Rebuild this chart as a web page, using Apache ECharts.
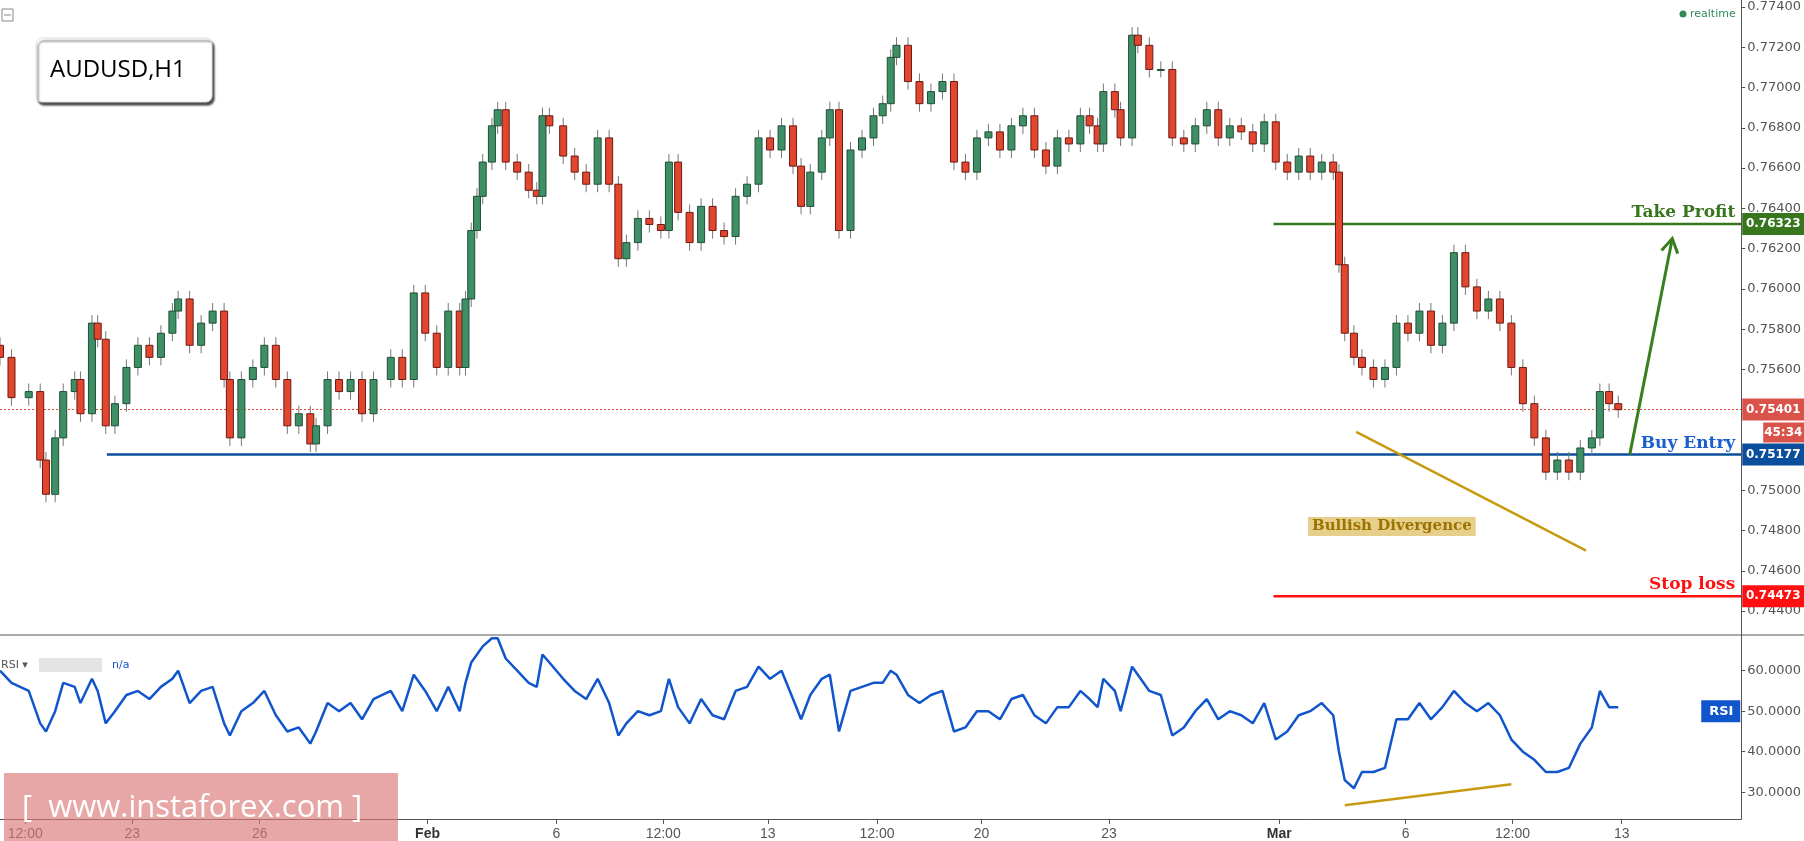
<!DOCTYPE html>
<html>
<head>
<meta charset="utf-8">
<script src="https://cdn.jsdelivr.net/npm/echarts@6/dist/echarts.min.js"></script>
<style>
  html, body { margin: 0; padding: 0; background: #fff; }
  #main { width: 1804px; height: 841px; }
</style>
</head>
<body>
<div id="main"></div>
<script>
// time slots (one slot ~ 40 min of trading time)
var slots = [0,10,25,35,40,48,55,65,70,80,85,92,100,110,120,130,140,150,155,165,175,185,195,200,210,220,230,240,250,260,
  270,275,285,295,305,315,325,340,350,360,370,380,390,400,405,410,415,420,428,433,440,450,460,467,472,478,490,500,510,520,
  530,538,545,555,565,575,582,590,600,610,620,630,640,650,660,670,680,690,697,705,715,722,730,740,750,760,768,775,780,790,
  800,810,820,830,840,850,860,870,880,890,900,910,920,930,940,948,955,960,970,975,985,990,1000,1010,1020,1030,1040,1050,1060,1070,
  1080,1090,1100,1110,1120,1130,1140,1150,1160,1165,1170,1178,1185,1195,1205,1215,1225,1235,1245,1255,1265,1275,1285,1295,1305,1315,1325,1335,1345,1355,
  1365,1375,1385,1392,1400,1408];
var closes = [.7566,.7546,.7549,.7515,.7498,.7526,.7549,.7555,.7538,.7583,.7575,.7532,.7543,.7561,.7572,.7566,.7578,.7589,.7595,.7572,.7583,.7589,.7555,.7526,.7555,.7561,.7572,.7555,.7532,.7538,
  .7523,.7532,.7555,.7549,.7555,.7538,.7555,.7566,.7555,.7598,.7578,.7561,.7589,.7561,.7595,.7629,.7646,.7663,.7681,.7689,.7663,.7658,.7649,.7646,.7686,.7681,.7666,.7658,.7652,.7675,
  .7652,.7615,.7623,.7635,.7632,.7629,.7663,.7638,.7623,.7641,.7629,.7626,.7646,.7652,.7675,.7669,.7681,.7661,.7641,.7658,.7675,.7689,.7629,.7669,.7675,.7686,.7692,.7715,.7721,.7703,
  .7692,.7698,.7703,.7663,.7658,.7675,.7678,.7669,.7681,.7686,.7669,.7661,.7675,.7672,.7686,.7681,.7672,.7698,.7689,.7675,.7726,.7721,.7709,.7709,.7675,.7672,.7681,.7689,.7675,.7681,
  .7678,.7672,.7683,.7663,.7658,.7666,.7658,.7663,.7658,.7612,.7578,.7566,.7561,.7555,.7561,.7583,.7578,.7589,.7572,.7583,.7618,.7601,.7589,.7595,.7583,.7561,.7543,.7526,.7509,.7515,
  .7509,.7521,.7526,.7549,.7543,.7540];
var rsi = [60,57,55,47,45,50,57,56,52,58,55,47,50,54,55,53,56,58,60,52,55,56,47,44,50,52,55,49,45,46,
  42,45,52,50,52,48,53,55,50,59,55,50,56,50,57,62,64,66,68,68,63,60,57,56,64,62,58,55,53,58,
  52,44,47,50,49,50,58,51,47,53,49,48,55,56,61,58,60,53,48,54,58,59,45,55,56,57,57,60,59,54,
  52,54,55,45,46,50,50,48,53,54,49,47,51,51,55,53,51,58,55,50,61,59,55,54,44,46,50,53,48,50,
  49,47,52,43,45,49,50,52,49,40,33,31,35,35,36,48,48,52,48,51,55,52,50,52,49,43,40,38,35,35,
  36,42,46,55,51,51];
var tickSlots = [22,115,226,372,484,577,668,763,854,965,1113,1223,1316,1411];
var tickLabels = ['12:00','23','26','Feb','6','12:00','13','12:00','20','23','Mar','6','12:00','13'];
var priceTicks = [0.744,0.746,0.748,0.750,0.752,0.754,0.756,0.758,0.760,0.762,0.764,0.766,0.768,0.770,0.772,0.774];
var rsiTicks = [30,40,50,60];
var takeProfit = 0.76323, buyEntry = 0.75177, stopLoss = 0.74473, lastPrice = 0.75401;
var NSLOTS = 1516;

var cats = [];
for (var i = 0; i < NSLOTS; i++) cats.push(i);
var candles = [], rsiLine = [];
for (var i = 0; i < NSLOTS; i++) rsiLine.push('-');
slots.forEach(function (s, i) {
    var c = closes[i];
    var o = i > 0 ? closes[i - 1] : c + 0.0006;
    candles.push([s, o, c, Math.min(o, c) - 0.0004, Math.max(o, c) + 0.0004]);
    rsiLine[s] = rsi[i];
});
var tickMap = {};
tickSlots.forEach(function (s, i) { tickMap[s] = tickLabels[i]; });

function renderCandle(params, api) {
    var x = api.value(0), o = api.value(1), c = api.value(2), l = api.value(3), h = api.value(4);
    var pO = api.coord([x, o]), pC = api.coord([x, c]), pL = api.coord([x, l]), pH = api.coord([x, h]);
    var up = c >= o, w = 7;
    var top = Math.min(pO[1], pC[1]), bh = Math.max(Math.abs(pO[1] - pC[1]), 1);
    return { type: 'group', children: [
        { type: 'line', shape: { x1: pH[0], y1: pH[1], x2: pL[0], y2: pL[1] }, style: { stroke: '#777', lineWidth: 1 } },
        { type: 'rect', shape: { x: pO[0] - w / 2, y: top, width: w, height: bh },
          style: { fill: up ? '#3f8f66' : '#e2462f', stroke: up ? '#1f4f35' : '#6a1a12', lineWidth: 1 } }
    ] };
}

var chart = echarts.init(document.getElementById('main'));
var gray = '#555';
chart.setOption({
    animation: false,
    textStyle: { fontFamily: 'DejaVu Sans' },
    grid: [
        { left: 0, right: 61, top: 0, height: 635 },
        { left: 0, right: 61, top: 635, height: 186 }
    ],
    xAxis: [
        { type: 'category', gridIndex: 0, data: cats, boundaryGap: false,
          axisLine: { show: false }, axisTick: { show: false }, axisLabel: { show: false }, splitLine: { show: false } },
        { type: 'category', gridIndex: 1, data: cats, boundaryGap: false,
          axisLine: { lineStyle: { color: '#555' } },
          axisTick: { interval: function (i) { return tickMap[i] !== undefined; }, lineStyle: { color: '#555' } },
          axisLabel: { interval: function (i) { return tickMap[i] !== undefined; },
              formatter: function (v) { var t = tickMap[v]; return (t === 'Feb' || t === 'Mar') ? '{b|' + t + '}' : t; },
              color: gray, fontSize: 14, fontFamily: 'Liberation Sans Narrow, Liberation Sans', margin: 8,
              rich: { b: { fontWeight: 'bold', color: '#333', fontSize: 14 } } },
          splitLine: { show: false } }
    ],
    yAxis: [
        { type: 'value', gridIndex: 0, position: 'right', min: 0.74281, max: 0.77435,
          axisLine: { show: true, lineStyle: { color: '#555' } },
          axisTick: { show: true, customValues: priceTicks, length: 4, lineStyle: { color: '#555' } },
          axisLabel: { customValues: priceTicks, formatter: function (v) { return v.toFixed(5); },
              color: gray, fontSize: 13, margin: 6 },
          splitLine: { show: false } },
        { type: 'value', gridIndex: 1, position: 'right', min: 23.4, max: 68.8,
          axisLine: { show: true, lineStyle: { color: '#555' } },
          axisTick: { show: true, customValues: rsiTicks, length: 4, lineStyle: { color: '#555' } },
          axisLabel: { customValues: rsiTicks, formatter: function (v) { return v.toFixed(4); },
              color: gray, fontSize: 13, margin: 6 },
          splitLine: { show: false } }
    ],
    series: [
        { type: 'custom', xAxisIndex: 0, yAxisIndex: 0, data: candles, renderItem: renderCandle,
          encode: { x: 0, y: [1, 2, 3, 4] } },
        { type: 'line', xAxisIndex: 1, yAxisIndex: 1, data: rsiLine, connectNulls: true, showSymbol: false,
          lineStyle: { color: '#1155cc', width: 2.5 } }
    ]
});

function P(s, v) { return chart.convertToPixel({ gridIndex: 0 }, [s, v]); }
function R(s, v) { return chart.convertToPixel({ gridIndex: 1 }, [s, v]); }
var axisX = P(NSLOTS - 1, lastPrice)[0];

function hline(s0, price, color, w, dash) {
    var a = P(s0, price), b = P(NSLOTS - 1, price);
    return { type: 'line', shape: { x1: a[0], y1: a[1], x2: b[0], y2: b[1] },
        style: { stroke: color, lineWidth: w, lineDash: dash || null } };
}
function tag(price, text, bg, dy) {
    var y = P(0, price)[1] + (dy || 0);
    return { type: 'group', z: 100, children: [
        { type: 'rect', z: 100, shape: { x: axisX + 1, y: y - 11, width: 62, height: 22 }, style: { fill: bg } },
        { type: 'text', z: 101, x: axisX + 32, y: y, style: { text: text, fill: '#fff', font: 'bold 12px DejaVu Sans', align: 'center', verticalAlign: 'middle' } }
    ] };
}
function title(price, text, color) {
    var y = P(0, price)[1];
    return { type: 'text', x: axisX - 6, y: y - 3, style: { text: text, fill: color, font: 'bold 17px DejaVu Serif', align: 'right', verticalAlign: 'bottom' } };
}

var arrowA = P(1418, buyEntry), arrowB = P(1455, 0.7625);
var ang = Math.atan2(arrowB[1] - arrowA[1], arrowB[0] - arrowA[0]);
function head(p, a, len) {
    return [[p[0] + len * Math.cos(a + 2.6), p[1] + len * Math.sin(a + 2.6)], p, [p[0] + len * Math.cos(a - 2.6), p[1] + len * Math.sin(a - 2.6)]];
}
var d1 = P(1180, 0.7529), d2 = P(1380, 0.7470);
var r1 = R(1170, 26.8), r2 = R(1315, 32);
var divLbl = P(1211, 0.7482);
var lastY = P(0, lastPrice)[1];

chart.setOption({
    graphic: [
        hline(0, lastPrice, '#e2462f', 1, [2, 2]),
        hline(1108, takeProfit, '#38761d', 2.5),
        hline(93, buyEntry, '#0b4f9c', 2.5),
        hline(1108, stopLoss, '#ff1010', 2.5),
        title(takeProfit, 'Take Profit', '#38761d'),
        title(buyEntry, 'Buy Entry', '#1a5fcc'),
        title(stopLoss, 'Stop loss', '#ff1010'),
        tag(takeProfit, '0.76323', '#38761d'),
        tag(buyEntry, '0.75177', '#0b4f9c'),
        tag(stopLoss, '0.74473', '#ff1010'),
        tag(lastPrice, '0.75401', '#d9534a'),
        { type: 'group', z: 100, children: [
            { type: 'rect', z: 100, shape: { x: axisX + 22, y: lastY + 13, width: 41, height: 20 }, style: { fill: '#d9534a' } },
            { type: 'text', z: 101, x: axisX + 42, y: lastY + 23, style: { text: '45:34', fill: '#fff', font: 'bold 12px DejaVu Sans', align: 'center', verticalAlign: 'middle' } }
        ] },
        { type: 'line', shape: { x1: arrowA[0], y1: arrowA[1], x2: arrowB[0], y2: arrowB[1] }, style: { stroke: '#38801f', lineWidth: 3 } },
        { type: 'polyline', shape: { points: head(arrowB, ang, 16) }, style: { stroke: '#38801f', lineWidth: 3, fill: null } },
        { type: 'line', shape: { x1: d1[0], y1: d1[1], x2: d2[0], y2: d2[1] }, style: { stroke: '#c79a12', lineWidth: 2.5 } },
        { type: 'line', shape: { x1: r1[0], y1: r1[1], x2: r2[0], y2: r2[1] }, style: { stroke: '#c79a12', lineWidth: 2.5 } },
        { type: 'text', x: divLbl[0], y: divLbl[1], style: { text: 'Bullish Divergence', fill: '#9a7300', font: 'bold 15px DejaVu Serif',
            align: 'center', verticalAlign: 'middle', backgroundColor: '#e6cf8a', padding: [2, 4] } },
        // separator between panes
        { type: 'line', shape: { x1: 0, y1: 635, x2: 1804, y2: 635 }, style: { stroke: '#555', lineWidth: 1 } },
        // symbol box
        { type: 'rect', shape: { x: 36, y: 38, width: 176, height: 64, r: 6 },
          style: { fill: '#fff', stroke: '#ddd', shadowColor: 'rgba(0,0,0,0.7)', shadowBlur: 2, shadowOffsetX: 2, shadowOffsetY: 3 } },
        { type: 'text', x: 50, y: 70, style: { text: 'AUDUSD,H1', fill: '#000', font: '24px Open Sans', verticalAlign: 'middle' } },
        { type: 'rect', shape: { x: 2, y: 9, width: 11, height: 12 }, style: { fill: '#fff', stroke: '#888' } },
        { type: 'line', shape: { x1: 4, y1: 15, x2: 11, y2: 15 }, style: { stroke: '#888' } },
        { type: 'circle', shape: { cx: 1683, cy: 14, r: 3.5 }, style: { fill: '#2e8b57' } },
        { type: 'text', x: 1690, y: 14, style: { text: 'realtime', fill: '#2e8b57', font: '11px DejaVu Sans', verticalAlign: 'middle' } },
        // RSI header
        { type: 'text', x: 1, y: 665, style: { text: 'RSI ▾', fill: '#555', font: '11px DejaVu Sans', verticalAlign: 'middle' } },
        { type: 'rect', shape: { x: 39, y: 658, width: 63, height: 14 }, style: { fill: '#e4e4e4' } },
        { type: 'text', x: 112, y: 665, style: { text: 'n/a', fill: '#1155cc', font: '11px DejaVu Sans', verticalAlign: 'middle' } },
        { type: 'rect', shape: { x: axisX - 40, y: R(0, 50)[1] - 11, width: 39, height: 22 }, style: { fill: '#1155cc' } },
        { type: 'text', x: axisX - 20, y: R(0, 50)[1], style: { text: 'RSI', fill: '#fff', font: 'bold 13px DejaVu Sans', align: 'center', verticalAlign: 'middle' } },
        // watermark
        { type: 'rect', z: 100, shape: { x: 4, y: 773, width: 394, height: 68 }, style: { fill: 'rgba(220,120,120,0.65)' } },
        { type: 'text', z: 101, x: 22, y: 808, style: { text: '[  www.instaforex.com ]', fill: '#fff', font: '31px Open Sans', verticalAlign: 'middle' } }
    ]
});
</script>
</body>
</html>
